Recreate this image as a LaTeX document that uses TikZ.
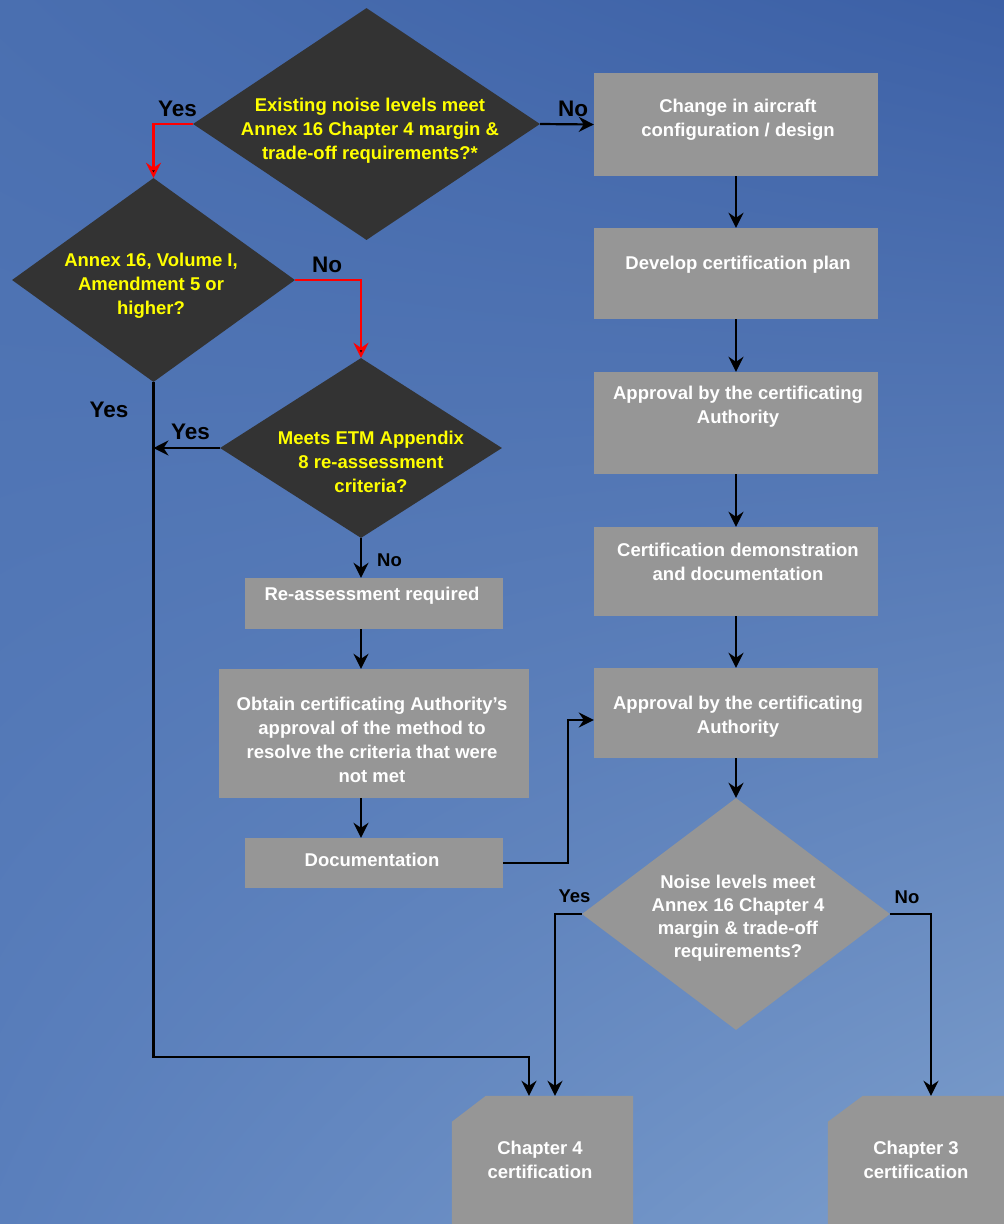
\documentclass[tikz,border=0pt]{standalone}
\usepackage{fontspec}
\setmainfont{Liberation Sans}
\usetikzlibrary{shapes.geometric,arrows.meta,calc,shadings}
\definecolor{bgUL}{HTML}{4A6FB0}
\definecolor{bgUR}{HTML}{3C60A6}
\definecolor{bgLL}{HTML}{5A7FBC}
\definecolor{bgLR}{HTML}{7C9ECC}
\definecolor{boxgray}{HTML}{969696}
\definecolor{darkdia}{HTML}{333333}
\definecolor{qyellow}{HTML}{FFFF00}
\begin{document}
\begin{tikzpicture}[x=1pt,y=-1pt,
  box/.style={fill=boxgray, inner sep=0pt},
  ddia/.style={diamond, fill=darkdia, inner sep=0pt},
  gdia/.style={diamond, fill=boxgray, inner sep=0pt},
  btxt/.style={text=white, align=center, font=\fontsize{18.5}{24}\bfseries\selectfont},
  ytxt/.style={text=qyellow, align=center, font=\fontsize{18.5}{24}\bfseries\selectfont},
  biglab/.style={text=black, font=\fontsize{22.5}{26}\bfseries\selectfont, inner sep=0pt},
  smlab/.style={text=black, font=\fontsize{18.5}{22}\bfseries\selectfont, inner sep=0pt},
  arr/.style={draw=black, line width=2.2pt, -{Stealth[length=15pt,width=15pt,inset=5pt]}},
  redarr/.style={draw=red, line width=2.2pt, -{Stealth[length=15pt,width=15pt,inset=5pt,fill=black]}}
]
\shade[upper left=bgUL, upper right=bgUR, lower left=bgLL, lower right=bgLR] (0,0) rectangle (1004,1224);
\useasboundingbox (0,0) rectangle (1004,1224);

% diamonds
\node[ddia, minimum width=347pt, minimum height=232pt] (d1) at (366.5,124) {};
\node[ddia, minimum width=283pt, minimum height=204pt] (d2) at (153.5,280) {};
\node[ddia, minimum width=282pt, minimum height=180pt] (d3) at (361,448) {};
\node[gdia, minimum width=308pt, minimum height=232pt] (d4) at (736,914) {};

\node[ytxt] (d1t) at (370,131) {Existing noise levels meet\\Annex 16 Chapter 4 margin \&\\trade-off requirements?*};
\node[ytxt] (d2t) at (151,286) {Annex 16, Volume I,\\Amendment 5 or\\higher?};
\node[ytxt] (d3t) at (371,462) {Meets ETM Appendix\\8 re-assessment\\criteria?};
\node[btxt, font=\fontsize{18.5}{23}\bfseries\selectfont] (d4t) at (738,918) {Noise levels meet\\Annex 16 Chapter 4\\margin \& trade-off\\requirements?};

% right column boxes
\node[box, minimum width=284pt, minimum height=103pt] (b1) at (736,124.5) {};
\node[box, minimum width=284pt, minimum height=91pt] (b2) at (736,273.5) {};
\node[box, minimum width=284pt, minimum height=102pt] (b3) at (736,423) {};
\node[box, minimum width=284pt, minimum height=89pt] (b4) at (736,571.5) {};
\node[box, minimum width=284pt, minimum height=90pt] (b5) at (736,713) {};
\node[btxt] (b1t) at (738,120) {Change in aircraft\\configuration / design};
\node[btxt] (b2t) at (738,264.5) {Develop certification plan};
\node[btxt] (b3t) at (738,407) {Approval by the certificating\\Authority};
\node[btxt] (b4t) at (738,561.5) {Certification demonstration\\and documentation};
\node[btxt] (b5t) at (738,717) {Approval by the certificating\\Authority};

% left column boxes
\node[box, minimum width=258pt, minimum height=51pt] (r1) at (374,603.5) {};
\node[box, minimum width=310pt, minimum height=129pt] (o1) at (374,733.5) {};
\node[box, minimum width=258pt, minimum height=50pt] (doc) at (374,863) {};
\node[btxt] (r1t) at (372,596) {Re-assessment required};
\node[btxt] (o1t) at (372,740) {Obtain certificating Authority's\\approval of the method to\\resolve the criteria that were\\not met};
\node[btxt] (doct) at (372,860) {Documentation};

% chapter boxes
\node[inner sep=0pt, minimum width=181pt, minimum height=128pt] (c4) at (542.5,1160) {};
\node[inner sep=0pt, minimum width=177pt, minimum height=128pt] (c3) at (916.5,1160) {};
\fill[boxgray] ($(c4.north west)+(0,26)$) -- ($(c4.north west)+(34,0)$) -- (c4.north east) -- (c4.south east) -- (c4.south west) -- cycle;
\fill[boxgray] ($(c3.north west)+(0,26)$) -- ($(c3.north west)+(35,0)$) -- (c3.north east) -- (c3.south east) -- (c3.south west) -- cycle;
\node[btxt] (c4t) at (540,1160) {Chapter 4\\certification};
\node[btxt] (c3t) at (916,1160) {Chapter 3\\certification};

% connectors
\draw[redarr] (d1.west) -| (d2.north);
\draw[arr] (d1.east) -- (b1.west);
\draw[redarr] (d2.east) -| (d3.north);
\coordinate (kk) at (529,1057);
\draw[arr] (d2.south) |- (kk) -- (kk |- c4.north);
\draw[arr] (d3.west) -- (d3.west -| d2.south);
\draw[arr] (d3.south) -- (d3.south |- r1.north);
\draw[arr] (r1.south -| d3.south) -- (o1.north -| d3.south);
\draw[arr] (o1.south -| d3.south) -- (doc.north -| d3.south);
\coordinate (dm) at (568,720);
\draw[arr] (doc.east) -| (dm) -- (dm -| b5.west);
\draw[arr] (b1.south) -- (b2.north);
\draw[arr] (b2.south) -- (b3.north);
\draw[arr] (b3.south) -- (b4.north);
\draw[arr] (b4.south) -- (b5.north);
\draw[arr] (b5.south) -- (d4.north);
\coordinate (ya) at (555,914);
\draw[arr] (d4.west) -- (ya) -- (ya |- c4.north);
\coordinate (na) at (931,914);
\draw[arr] (d4.east) -- (na) -- (na |- c3.north);

% labels
\node[biglab] (l1) at (177.5,108.5) {Yes};
\node[biglab] (l2) at (573,108.5) {No};
\node[biglab] (l3) at (327,264.5) {No};
\node[biglab] (l4) at (109,409.5) {Yes};
\node[biglab] (l5) at (190.5,432) {Yes};
\node[smlab] (l6) at (389.5,560.5) {No};
\node[smlab] (l7) at (574.5,896.5) {Yes};
\node[smlab] (l8) at (907,897) {No};
\end{tikzpicture}
\end{document}
